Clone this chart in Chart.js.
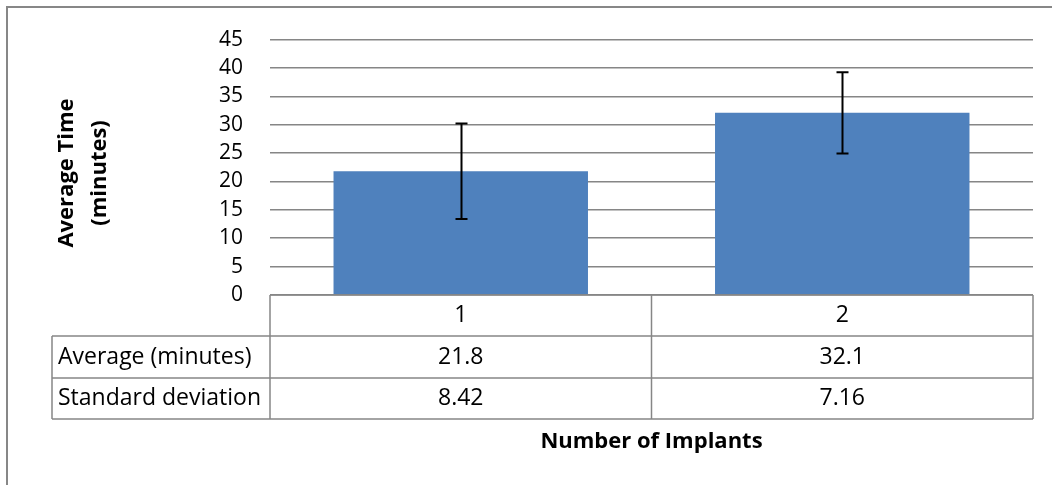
<!DOCTYPE html>
<html>
<head>
<meta charset="utf-8">
<script src="https://cdn.jsdelivr.net/npm/chart.js@4/dist/chart.umd.min.js"></script>
<style>
  html, body { margin: 0; padding: 0; background: #fff; }
  #wrap { position: relative; width: 1052px; height: 485px; }
</style>
</head>
<body>
<div id="wrap"><canvas id="c" width="1052" height="485"></canvas></div>
<script>
// ---- data ----
const categories = ['1', '2'];
const averages = [21.8, 32.1];
const stdDevs = [8.42, 7.16];
const rowLabels = ['Average (minutes)', 'Standard deviation'];
const yTitle = ['Average Time', '(minutes)'];
const xTitle = 'Number of Implants';
const yMin = 0, yMax = 45, yStep = 5;

const FONT = "'Open Sans', 'DejaVu Sans', sans-serif";
const GRID = '#868686';

const decorPlugin = {
  id: 'decor',
  beforeDraw(chart) {
    const ctx = chart.ctx;
    ctx.save();
    ctx.fillStyle = '#fff';
    ctx.fillRect(0, 0, chart.width, chart.height);
    // outer border (top + left)
    ctx.strokeStyle = '#878787';
    ctx.lineWidth = 2;
    ctx.beginPath();
    ctx.moveTo(7, chart.height);
    ctx.lineTo(7, 7);
    ctx.lineTo(chart.width, 7);
    ctx.stroke();
    ctx.restore();
  },
  afterDatasetsDraw(chart) {
    const ctx = chart.ctx;
    const y = chart.scales.y;
    const meta = chart.getDatasetMeta(0);
    ctx.save();
    ctx.strokeStyle = '#000';
    ctx.lineWidth = 2;
    meta.data.forEach((bar, i) => {
      const cx = Math.round(bar.x) + 0.5;
      const yTop = y.getPixelForValue(averages[i] + stdDevs[i]);
      const yBot = y.getPixelForValue(averages[i] - stdDevs[i]);
      ctx.beginPath();
      ctx.moveTo(cx, yTop); ctx.lineTo(cx, yBot);
      ctx.moveTo(cx - 6, yTop); ctx.lineTo(cx + 6, yTop);
      ctx.moveTo(cx - 6, yBot); ctx.lineTo(cx + 6, yBot);
      ctx.stroke();
    });
    ctx.restore();
  },
  afterDraw(chart) {
    const ctx = chart.ctx;
    const area = chart.chartArea;
    const n = categories.length;
    const step = (area.right - area.left) / n;
    const r0 = area.bottom, r1 = r0 + 41, r2 = r1 + 42, r3 = r2 + 41;
    const labelLeft = 52;
    ctx.save();
    ctx.strokeStyle = GRID;
    ctx.lineWidth = 1.5;
    ctx.beginPath();
    ctx.moveTo(area.left, r0); ctx.lineTo(area.right, r0);
    [r1, r2, r3].forEach(yy => { ctx.moveTo(labelLeft, yy); ctx.lineTo(area.right, yy); });
    for (let i = 0; i <= n; i++) {
      const xx = area.left + i * step;
      ctx.moveTo(xx, r0); ctx.lineTo(xx, r3);
    }
    ctx.moveTo(labelLeft, r1); ctx.lineTo(labelLeft, r3);
    ctx.stroke();

    ctx.fillStyle = '#000';
    ctx.font = "23px " + FONT;
    ctx.textBaseline = 'middle';
    ctx.textAlign = 'center';
    const x = chart.scales.x;
    categories.forEach((c, i) => {
      const cx = x.getPixelForValue(i);
      ctx.fillText(c, cx, (r0 + r1) / 2);
      ctx.fillText(String(averages[i]), cx, (r1 + r2) / 2);
      ctx.fillText(String(stdDevs[i]), cx, (r2 + r3) / 2);
    });
    ctx.textAlign = 'left';
    ctx.fillText(rowLabels[0], 58, (r1 + r2) / 2);
    ctx.fillText(rowLabels[1], 58, (r2 + r3) / 2);

    ctx.font = "bold 22px " + FONT;
    ctx.textAlign = 'center';
    ctx.fillText(xTitle, (area.left + area.right) / 2, 442);
    ctx.save();
    ctx.translate(0, 173);
    ctx.rotate(-Math.PI / 2);
    ctx.fillText(yTitle[0], 0, 67);
    ctx.fillText(yTitle[1], 0, 100);
    ctx.restore();
    ctx.restore();
  }
};

new Chart(document.getElementById('c'), {
  type: 'bar',
  data: {
    labels: categories,
    datasets: [{
      data: averages,
      backgroundColor: '#4F81BD',
      borderWidth: 0,
      categoryPercentage: 1.0,
      barPercentage: 0.667
    }]
  },
  options: {
    responsive: false,
    animation: false,
    devicePixelRatio: 1,
    layout: { padding: { left: 0, top: 35, right: 19, bottom: 190 } },
    plugins: { legend: { display: false }, tooltip: { enabled: false } },
    scales: {
      x: { display: false, offset: true },
      y: {
        min: yMin, max: yMax,
        afterFit(scale) { scale.width = 270; },
        border: { display: false },
        grid: { color: GRID, lineWidth: 1.5, drawTicks: false },
        ticks: {
          stepSize: yStep,
          padding: 27,
          color: '#000',
          font: { family: FONT, size: 21 }
        }
      }
    }
  },
  plugins: [decorPlugin]
});
</script>
</body>
</html>
